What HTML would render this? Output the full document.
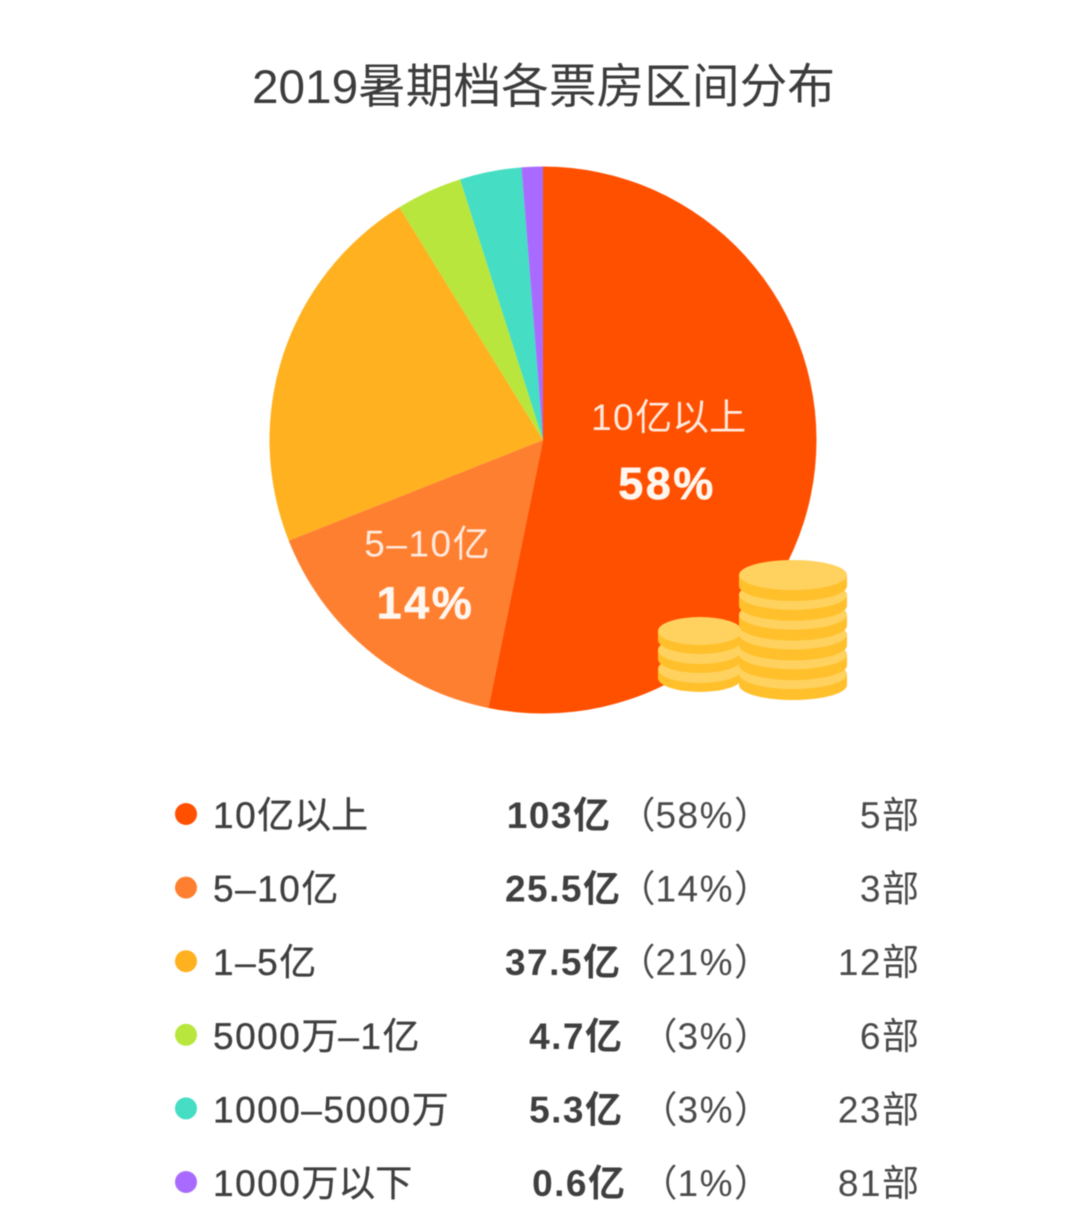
<!DOCTYPE html>
<html lang="zh">
<head>
<meta charset="utf-8">
<title>2019暑期档各票房区间分布</title>
<style>
html,body{margin:0;padding:0;background:#fff;width:1080px;height:1222px;overflow:hidden}
svg{display:block;filter:blur(0.4px)}
text{font-family:"Liberation Sans","Noto Sans CJK SC",sans-serif}
</style>
</head>
<body>
<svg id="chart" xmlns="http://www.w3.org/2000/svg" width="1080" height="1222" viewBox="0 0 1080 1222">
  <text x="543.5" y="103" text-anchor="middle" font-size="47.7" fill="#3c3c3c">2019暑期档各票房区间分布</text>
  <g id="slices"></g>
  <g id="pie-labels"></g>
  <g id="coins"></g>
  <g id="legend"></g>
</svg>
<script>
const categories = ["10亿以上", "5–10亿", "1–5亿", "5000万–1亿", "1000–5000万", "1000万以下"];
const sliceShares = [53.2, 15.8, 22.2, 3.9, 3.65, 1.25];
const boxOffice = ["103亿", "25.5亿", "37.5亿", "4.7亿", "5.3亿", "0.6亿"];
const percents = ["58%", "14%", "21%", "3%", "3%", "1%"];
const filmCounts = ["5部", "3部", "12部", "6部", "23部", "81部"];
const sliceColors = ["#ff5000", "#ff7f30", "#ffb11f", "#b8e63c", "#45ddc4", "#a96bff"];

const NS = "http://www.w3.org/2000/svg";
const CX = 543, CY = 440, R = 273.5;
const total = sliceShares.reduce((a, b) => a + b, 0);
const angleOf = v => v / total * Math.PI * 2;
const polar = (a, r) => [CX + r * Math.sin(a), CY - r * Math.cos(a)];

function mk(tag, attrs, parent, txt) {
  const e = document.createElementNS(NS, tag);
  for (const k in attrs) e.setAttribute(k, attrs[k]);
  if (txt !== undefined) e.textContent = txt;
  parent.appendChild(e);
  return e;
}

/* Latin runs get extra tracking to match the wider digits of the reference font */
function spaced(textEl, str, latinSpacing) {
  str.split(/([\x00-\x7f–]+)/).filter(Boolean).forEach(run => {
    const isLatin = /^[\x00-\x7f–]+$/.test(run);
    mk("tspan", {"letter-spacing": isLatin ? latinSpacing : 0}, textEl, run);
  });
}

const slicesG = document.getElementById("slices");
const labelsG = document.getElementById("pie-labels");
let acc = 0;
sliceShares.forEach((v, i) => {
  const a0 = angleOf(acc), a1 = angleOf(acc + v);
  acc += v;
  const [x0, y0] = polar(a0, R), [x1, y1] = polar(a1, R);
  const large = a1 - a0 > Math.PI ? 1 : 0;
  const p = mk("path", {
    d: `M${CX} ${CY}L${x0} ${y0}A${R} ${R} 0 ${large} 1 ${x1} ${y1}Z`,
    fill: sliceColors[i]
  }, slicesG);
  
  
  if (i < 2) {
    const mid = (a0 + a1) / 2;
    const [lx, ly] = polar(mid, R * (i === 0 ? 0.465 : 0.655));
    const name = mk("text", {x: lx - 1, y: ly - (i === 0 ? 23 : 21), "text-anchor": "middle", "font-size": 37, fill: "#ffe9dd"}, labelsG);
    spaced(name, categories[i], 1.5);
    
    
    const pct = mk("text", {x: lx - 2.5, y: ly + (i === 0 ? 46 : 41), "text-anchor": "middle", "font-size": 45, "font-weight": "bold", "letter-spacing": 2.5, stroke: "#fff6ef", "stroke-width": 0.6, fill: "#fff6ef"}, labelsG, percents[i]);
    
    
  }
});

/* decorative coin stacks */
const coinsG = document.getElementById("coins");
function coin(cx, cy, rx, ry, h) {
  mk("path", {d: `M${cx - rx} ${cy}V${cy + h}A${rx} ${ry} 0 0 0 ${cx + rx} ${cy + h}V${cy}Z`, fill: "#ffc02c"}, coinsG);
  mk("ellipse", {cx, cy, rx, ry, fill: "#ffd25f"}, coinsG);
}
for (let n = 2; n >= 0; n--) coin(700, 631 + n * 19, 42, 14, 9);
for (let n = 5; n >= 0; n--) coin(793, 575 + n * 19.8, 54, 15, 11);

/* legend table layout */
const valueRightEdges = [610, 620, 620, 622, 622, 625];
const legendG = document.getElementById("legend");
categories.forEach((c, i) => {
  const y = 815 + i * 73.6;
  const dot = mk("circle", {cx: 186, cy: y - 1, r: 11, fill: sliceColors[i]}, legendG);
  
  
  const t1 = mk("text", {x: 213, y: y + 13, "font-size": 37, fill: "#3f3f3f", stroke: "#3f3f3f", "stroke-width": 0.35}, legendG);
  spaced(t1, c, 1.5);
  
  
  const t2 = mk("text", {x: valueRightEdges[i], y: y + 13, "text-anchor": "end", "font-size": 37, "font-weight": "bold", fill: "#3f3f3f"}, legendG);
  spaced(t2, boxOffice[i], 1.5);
  
  
  const t3 = mk("text", {x: 771, y: y + 13, "text-anchor": "end", "font-size": 37, fill: "#4a4a4a"}, legendG);
  spaced(t3, "（" + percents[i] + "）", 1.5);
  
  
  const t4 = mk("text", {x: 919, y: y + 13, "text-anchor": "end", "font-size": 37, fill: "#4a4a4a"}, legendG);
  spaced(t4, filmCounts[i], 1.5);
  
  
});
</script>
</body>
</html>
